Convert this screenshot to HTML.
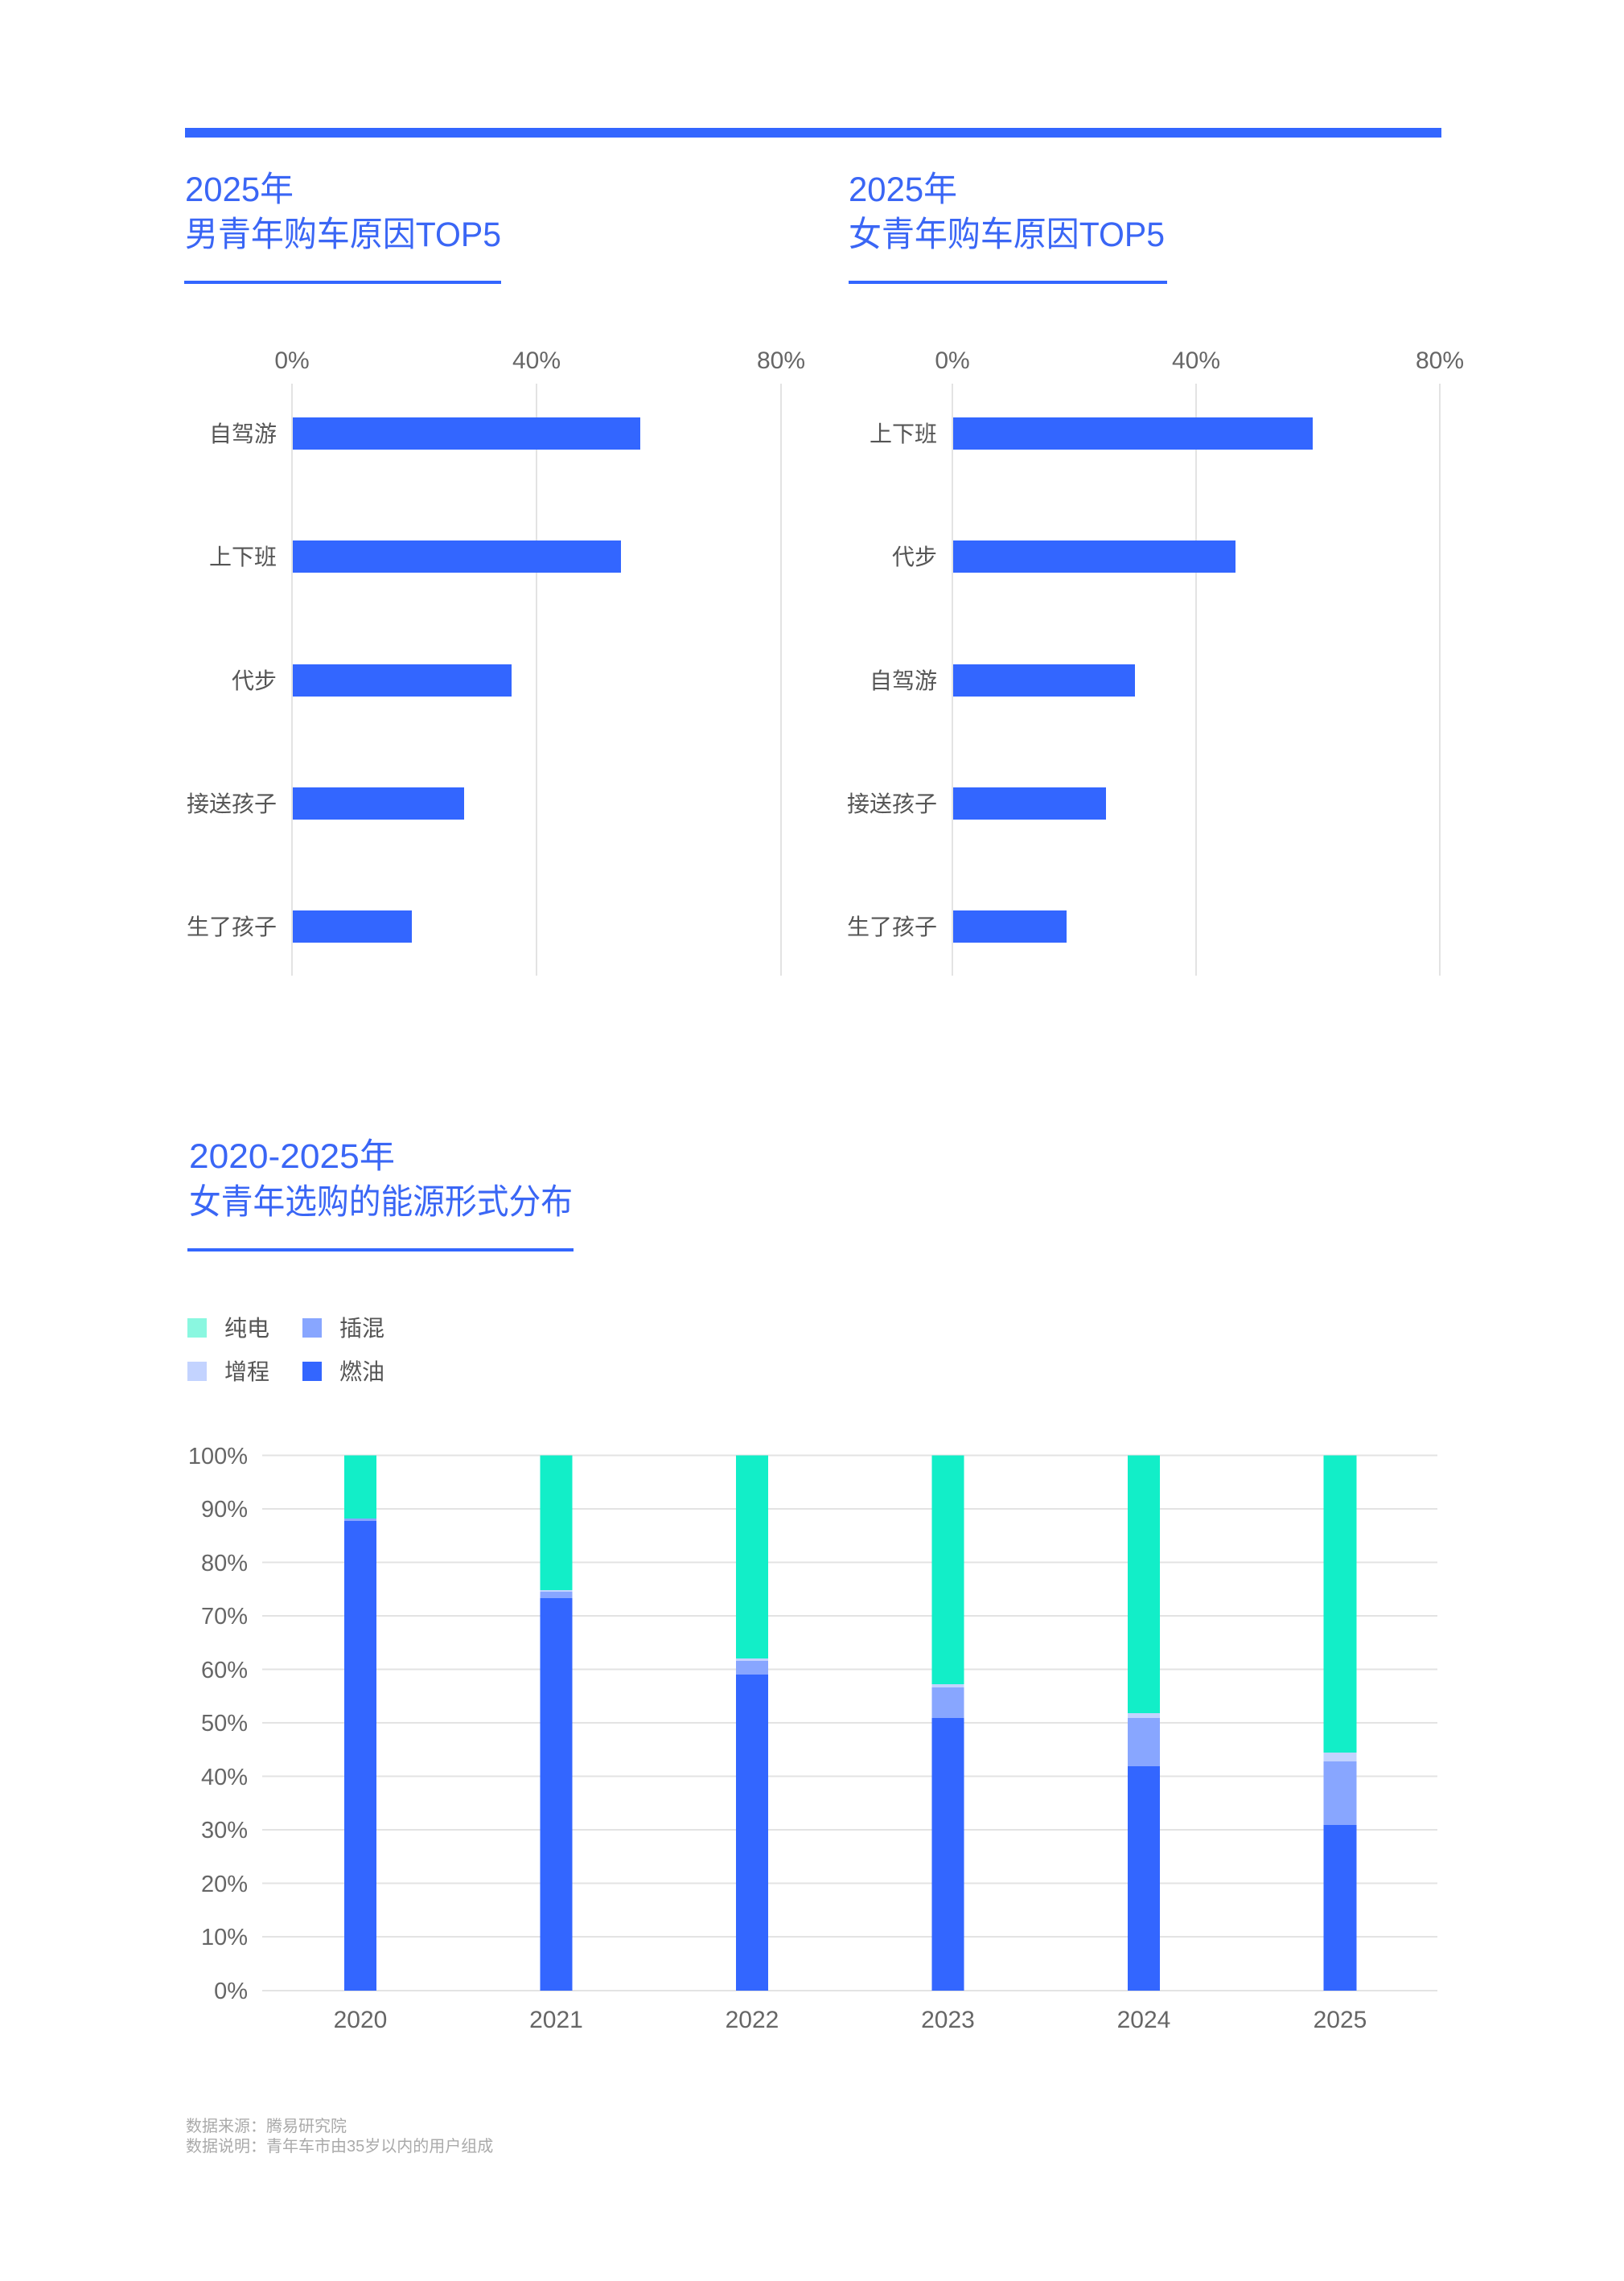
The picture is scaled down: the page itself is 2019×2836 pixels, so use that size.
<!DOCTYPE html>
<html><head><meta charset="utf-8"><style>
html,body{margin:0;padding:0;background:#fff;}
svg{display:block;}
text{font-family:"Liberation Sans","Noto Sans CJK SC",sans-serif;}
</style></head><body>
<svg width="2019" height="2836" viewBox="0 0 2019 2836" xmlns="http://www.w3.org/2000/svg">
<rect x="0" y="0" width="2019" height="2836" fill="#fff"/>
<rect x="230" y="159" width="1562" height="12" fill="#3366ff"/>

<g fill="#3a66f5" font-size="43">
<text x="230" y="250" textLength="135" lengthAdjust="spacingAndGlyphs">2025年</text>
<text x="230" y="306" textLength="393" lengthAdjust="spacingAndGlyphs">男青年购车原因TOP5</text>
<text x="1055" y="250" textLength="135" lengthAdjust="spacingAndGlyphs">2025年</text>
<text x="1055" y="306" textLength="393" lengthAdjust="spacingAndGlyphs">女青年购车原因TOP5</text>
</g>
<rect x="229" y="349" width="394" height="4" fill="#3366ff"/>
<rect x="1055" y="349" width="396" height="4" fill="#3366ff"/>

<g stroke="#e3e3e3" stroke-width="2">
<line x1="363" y1="477" x2="363" y2="1213"/>
<line x1="667" y1="477" x2="667" y2="1213"/>
<line x1="971" y1="477" x2="971" y2="1213"/>
<line x1="1184" y1="477" x2="1184" y2="1213"/>
<line x1="1487" y1="477" x2="1487" y2="1213"/>
<line x1="1790" y1="477" x2="1790" y2="1213"/>
</g>
<g fill="#666" font-size="30" text-anchor="middle">
<text x="363" y="458">0%</text><text x="667" y="458">40%</text><text x="971" y="458">80%</text>
<text x="1184" y="458">0%</text><text x="1487" y="458">40%</text><text x="1790" y="458">80%</text>
</g>
<g fill="#3366ff">
<rect x="364" y="519" width="432" height="40"/>
<rect x="364" y="672" width="408" height="40"/>
<rect x="364" y="826" width="272" height="40"/>
<rect x="364" y="979" width="213" height="40"/>
<rect x="364" y="1132" width="148" height="40"/>
<rect x="1185" y="519" width="447" height="40"/>
<rect x="1185" y="672" width="351" height="40"/>
<rect x="1185" y="826" width="226" height="40"/>
<rect x="1185" y="979" width="190" height="40"/>
<rect x="1185" y="1132" width="141" height="40"/>
</g>
<g fill="#555" font-size="28" text-anchor="end">
<text x="344" y="549">自驾游</text>
<text x="344" y="702">上下班</text>
<text x="344" y="856">代步</text>
<text x="344" y="1009">接送孩子</text>
<text x="344" y="1162">生了孩子</text>
<text x="1165" y="549">上下班</text>
<text x="1165" y="702">代步</text>
<text x="1165" y="856">自驾游</text>
<text x="1165" y="1009">接送孩子</text>
<text x="1165" y="1162">生了孩子</text>
</g>

<g fill="#3a66f5" font-size="43">
<text x="235" y="1452" textLength="256" lengthAdjust="spacingAndGlyphs">2020-2025年</text>
<text x="235" y="1509" textLength="477" lengthAdjust="spacingAndGlyphs">女青年选购的能源形式分布</text>
</g>
<rect x="233" y="1552" width="480" height="4" fill="#3366ff"/>

<rect x="233" y="1639" width="24" height="24" fill="#8af7e0"/>
<rect x="376" y="1639" width="24" height="24" fill="#88a6ff"/>
<rect x="233" y="1693" width="24" height="24" fill="#c3d3ff"/>
<rect x="376" y="1693" width="24" height="24" fill="#3366ff"/>
<g fill="#555" font-size="28">
<text x="279" y="1661">纯电</text><text x="422" y="1661">插混</text>
<text x="279" y="1715">增程</text><text x="422" y="1715">燃油</text>
</g>

<g stroke="#e3e3e3" stroke-width="2">
<line x1="326" y1="1809.5" x2="1787" y2="1809.5"/>
<line x1="326" y1="1876" x2="1787" y2="1876"/>
<line x1="326" y1="1942.5" x2="1787" y2="1942.5"/>
<line x1="326" y1="2009" x2="1787" y2="2009"/>
<line x1="326" y1="2075.5" x2="1787" y2="2075.5"/>
<line x1="326" y1="2142" x2="1787" y2="2142"/>
<line x1="326" y1="2208.5" x2="1787" y2="2208.5"/>
<line x1="326" y1="2275" x2="1787" y2="2275"/>
<line x1="326" y1="2341.5" x2="1787" y2="2341.5"/>
<line x1="326" y1="2408" x2="1787" y2="2408"/>
<line x1="326" y1="2475" x2="1787" y2="2475"/>
</g>
<g fill="#666" font-size="29" text-anchor="end">
<text x="308" y="1820">100%</text>
<text x="308" y="1886">90%</text>
<text x="308" y="1953">80%</text>
<text x="308" y="2019">70%</text>
<text x="308" y="2086">60%</text>
<text x="308" y="2152">50%</text>
<text x="308" y="2219">40%</text>
<text x="308" y="2285">30%</text>
<text x="308" y="2352">20%</text>
<text x="308" y="2418">10%</text>
<text x="308" y="2485">0%</text>
</g>

<rect x="428" y="1809.5" width="40" height="665.5" fill="#12eec8"/>
<rect x="428" y="1888" width="40" height="3" fill="#88a6ff"/>
<rect x="428" y="1891" width="40" height="584" fill="#3366ff"/>

<rect x="671.5" y="1809.5" width="40" height="665.5" fill="#12eec8"/>
<rect x="671.5" y="1977" width="40" height="2" fill="#c3d3ff"/>
<rect x="671.5" y="1979" width="40" height="9" fill="#88a6ff"/>
<rect x="671.5" y="1987" width="40" height="488" fill="#3366ff"/>

<rect x="915" y="1809.5" width="40" height="665.5" fill="#12eec8"/>
<rect x="915" y="2062" width="40" height="3" fill="#c3d3ff"/>
<rect x="915" y="2065" width="40" height="17" fill="#88a6ff"/>
<rect x="915" y="2082" width="40" height="393" fill="#3366ff"/>

<rect x="1158.5" y="1809.5" width="40" height="665.5" fill="#12eec8"/>
<rect x="1158.5" y="2094" width="40" height="4" fill="#c3d3ff"/>
<rect x="1158.5" y="2098" width="40" height="38" fill="#88a6ff"/>
<rect x="1158.5" y="2136" width="40" height="339" fill="#3366ff"/>

<rect x="1402" y="1809.5" width="40" height="665.5" fill="#12eec8"/>
<rect x="1402" y="2130" width="40" height="6" fill="#c3d3ff"/>
<rect x="1402" y="2136" width="40" height="60" fill="#88a6ff"/>
<rect x="1402" y="2196" width="40" height="279" fill="#3366ff"/>

<rect x="1645.5" y="1809.5" width="41" height="665.5" fill="#12eec8"/>
<rect x="1645.5" y="2179" width="41" height="11" fill="#c3d3ff"/>
<rect x="1645.5" y="2190" width="41" height="79" fill="#88a6ff"/>
<rect x="1645.5" y="2269" width="41" height="206" fill="#3366ff"/>

<g fill="#666" font-size="30" text-anchor="middle">
<text x="448" y="2521">2020</text>
<text x="691.5" y="2521">2021</text>
<text x="935" y="2521">2022</text>
<text x="1178.5" y="2521">2023</text>
<text x="1422" y="2521">2024</text>
<text x="1666" y="2521">2025</text>
</g>

<g fill="#aaa" font-size="20">
<text x="231" y="2650">数据来源：腾易研究院</text>
<text x="231" y="2675">数据说明：青年车市由35岁以内的用户组成</text>
</g>
</svg>
</body></html>
